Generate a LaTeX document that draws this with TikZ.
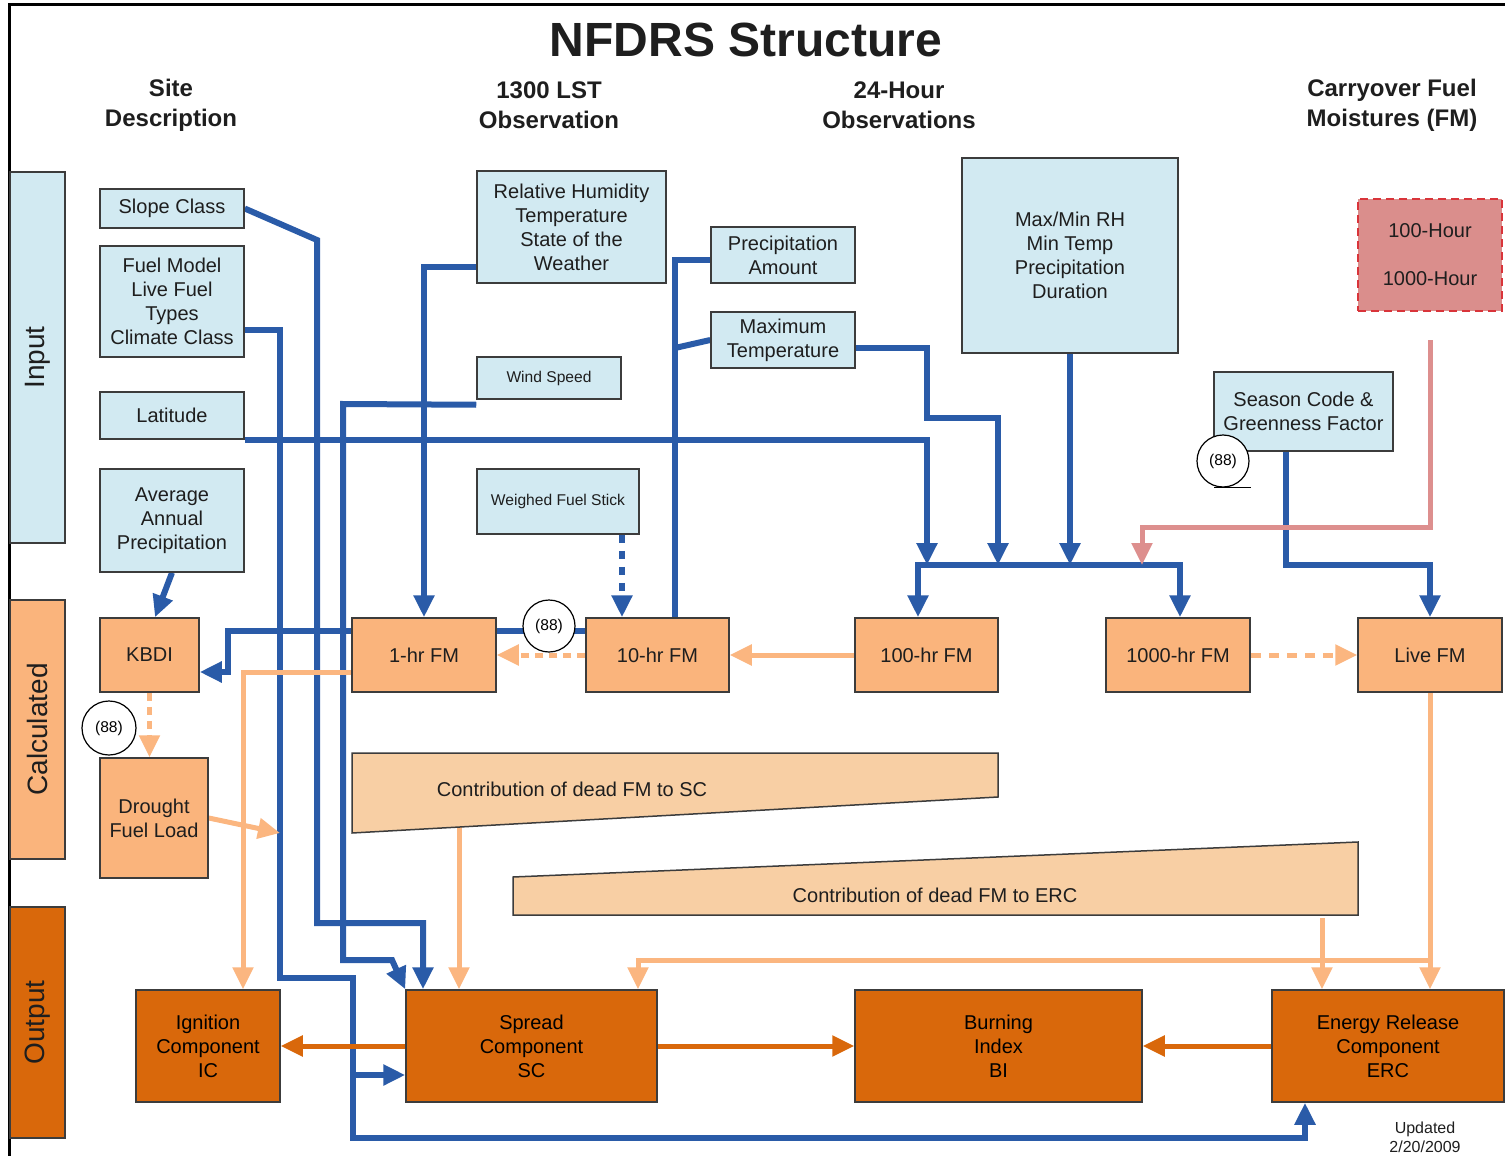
\documentclass[tikz,border=0pt]{standalone}
\usepackage{fontspec}
\setmainfont{Liberation Sans}
\usetikzlibrary{arrows.meta,backgrounds}

\definecolor{inblue}{RGB}{210,234,242}
\definecolor{calcorange}{RGB}{250,180,124}
\definecolor{outorange}{RGB}{217,104,11}
\definecolor{contribfill}{RGB}{248,207,164}
\definecolor{liteorange}{RGB}{251,182,128}
\definecolor{lineblue}{RGB}{42,91,168}
\definecolor{carryfill}{RGB}{218,142,140}
\definecolor{carryred}{RGB}{217,52,58}
\definecolor{pinkline}{RGB}{221,143,142}
\definecolor{boxline}{RGB}{60,60,60}
\definecolor{textdark}{RGB}{30,30,30}

\begin{document}
\begin{tikzpicture}[x=0.5pt,y=-0.5pt]
    \def\px{0.5pt}

    \tikzstyle{box}=[draw=boxline,line width=0.75pt,align=center,inner sep=0pt,text=textdark,font=\fontsize{10}{12}\selectfont]
    \tikzstyle{inbox}=[box,fill=inblue]
    \tikzstyle{calcbox}=[box,fill=calcorange]
    \tikzstyle{outbox}=[box,fill=outorange,text=black]
    \tikzstyle{carry}=[box,fill=carryfill,draw=carryred,dash pattern=on 4pt off 2.5pt,line width=0.9pt]
    \tikzstyle{band}=[box,font=\fontsize{14}{16}\selectfont,minimum width=55*\px]
    \tikzstyle{smalltext}=[font=\fontsize{7.8}{9}\selectfont]
    \tikzstyle{refnum}=[circle,draw=black,fill=white,line width=0.6pt,inner sep=0pt,minimum size=52*\px,font=\fontsize{7.8}{9}\selectfont]
    \tikzstyle{head}=[align=center,text=textdark,font=\bfseries\fontsize{12}{15}\selectfont]
    \tikzstyle{contrib}=[draw=boxline,fill=contribfill,line width=0.75pt]

    \useasboundingbox (0,0) rectangle (1505,1156);
    \draw[line width=1.5pt] (9,1156) -- (9,5) -- (1505,5);

    % headings
    \node[head,font=\bfseries\fontsize{24}{28}\selectfont] (title) at (746,40) {NFDRS Structure};
    \node[head] (hsite) at (171,105) {Site\\Description};
    \node[head] (hobs) at (549,105) {1300 LST\\Observation};
    \node[head] (h24) at (899,105) {24-Hour\\Observations};
    \node[head] (hcarry) at (1392,105) {Carryover Fuel\\Moistures (FM)};

    % row bands
    \node[band,fill=inblue,minimum height=371*\px] (inband) at (37.5,357.5) {\rotatebox{90}{Input}};
    \node[band,fill=calcorange,minimum height=259*\px] (calcband) at (37.5,729.5) {\rotatebox{90}{Calculated}};
    \node[band,fill=outorange,minimum height=231*\px] (outband) at (37.5,1022.5) {\rotatebox{90}{Output}};

    % inputs
    \node[inbox,minimum width=144*\px,minimum height=39*\px] (slope) at (172,208.5) {Slope Class};
    \node[inbox,minimum width=144*\px,minimum height=111*\px] (fuel) at (172,301.5) {Fuel Model\\Live Fuel\\Types\\Climate Class};
    \node[inbox,minimum width=144*\px,minimum height=47*\px] (lat) at (172,415.5) {Latitude};
    \node[inbox,minimum width=144*\px,minimum height=103*\px] (aap) at (172,520.5) {Average\\Annual\\Precipitation};
    \node[inbox,minimum width=189*\px,minimum height=112*\px] (rh) at (571.5,227) {Relative Humidity\\Temperature\\State of the\\Weather};
    \node[inbox,minimum width=144*\px,minimum height=56*\px] (precip) at (783,255) {Precipitation\\Amount};
    \node[inbox,minimum width=144*\px,minimum height=56*\px] (maxt) at (783,340) {Maximum\\Temperature};
    \node[inbox,smalltext,minimum width=144*\px,minimum height=42*\px] (wind) at (549,378) {Wind Speed};
    \node[inbox,smalltext,minimum width=162*\px,minimum height=65*\px] (wfs) at (558,501.5) {Weighed Fuel Stick};
    \node[inbox,minimum width=216*\px,minimum height=195*\px] (maxmin) at (1070,255.5) {Max/Min RH\\Min Temp\\Precipitation\\Duration};
    \node[carry,minimum width=144*\px,minimum height=112*\px] (carry) at (1430,255) {100-Hour\\[12pt]1000-Hour};
    \node[inbox,minimum width=179*\px,minimum height=79*\px] (season) at (1303.5,411.5) {Season Code \&\\Greenness Factor};

    % calculated
    \node[calcbox,minimum width=99*\px,minimum height=74*\px] (kbdi) at (149.5,655) {KBDI};
    \node[calcbox,minimum width=144*\px,minimum height=74*\px] (fm1) at (424,655) {1-hr FM};
    \node[calcbox,minimum width=143*\px,minimum height=74*\px] (fm10) at (657.5,655) {10-hr FM};
    \node[calcbox,minimum width=143*\px,minimum height=74*\px] (fm100) at (926.5,655) {100-hr FM};
    \node[calcbox,minimum width=144*\px,minimum height=74*\px] (fm1000) at (1178,655) {1000-hr FM};
    \node[calcbox,minimum width=144*\px,minimum height=74*\px] (live) at (1430,655) {Live FM};
    \node[calcbox,minimum width=108*\px,minimum height=120*\px] (dfl) at (154,818) {Drought\\Fuel Load};

    \draw[contrib] (352,753) -- (998,753) -- (998,797) -- (352,833) -- cycle;
    \node[text=textdark,font=\fontsize{10}{12}\selectfont] (csc) at (572,789) {Contribution of dead FM to SC};
    \draw[contrib] (513,877) -- (1358,842) -- (1358,915) -- (513,915) -- cycle;
    \node[text=textdark,font=\fontsize{10}{12}\selectfont] (cerc) at (935,895) {Contribution of dead FM to ERC};

    % outputs
    \node[outbox,minimum width=144*\px,minimum height=112*\px] (ic) at (208,1046) {Ignition\\Component\\IC};
    \node[outbox,minimum width=251*\px,minimum height=112*\px] (sc) at (531.5,1046) {Spread\\Component\\SC};
    \node[outbox,minimum width=287*\px,minimum height=112*\px] (bi) at (998.5,1046) {Burning\\Index\\BI};
    \node[outbox,minimum width=232*\px,minimum height=112*\px] (erc) at (1388,1046) {Energy Release\\Component\\ERC};
    \node[align=center,text=textdark,font=\fontsize{8}{9.5}\selectfont] (upd) at (1425,1137) {Updated\\2/20/2009};

    % (88) markers
    \node[refnum] (r1) at (549,626) {(88)};
    \node[refnum,minimum size=54*\px] (r2) at (109,728) {(88)};
    \node[refnum] (r3) at (1223,461) {(88)};
    \draw[line width=0.8pt] ([xshift=-4.5pt]r3.south) -- ([xshift=14pt]r3.south);

    \coordinate (j1) at (918,565);
    \coordinate (j2) at (1180,565);
    \coordinate (scbr) at (353,1075);
    \coordinate (dflend) at (280,833);
    \coordinate (cscout) at (459,827);
    \coordinate (cercout) at (1322,918);
    \coordinate (lbr) at (1430,960);
    \coordinate (pk) at (1430,340);
    \coordinate (wfsin) at ([xshift=-17.75pt]fm10.north);

    \tikzstyle{arr}=[-{Triangle[width=10pt,length=11pt]}]
    \tikzstyle{arrs}=[{Triangle[width=10pt,length=11pt]}-{Triangle[width=10pt,length=11pt]}]
    \tikzstyle{blueline}=[draw=lineblue,line width=3pt]
    \tikzstyle{liteline}=[draw=liteorange,line width=2.5pt]
    \tikzstyle{darkline}=[draw=outorange,line width=2.5pt]

    \begin{pgfonlayer}{background}
        \draw[blueline,arr] (slope.east) -- (317,240) -- (317,923) -| ([xshift=-54.25pt]sc.north);
        \draw[blueline,arr] ([yshift=-14.25pt]fuel.east) -- (280,330) -- (280,978) -- (353,978) -- (353,1138) -| ([xshift=-41.5pt]erc.south);
        \draw[blueline,arr] (scbr) -- ([yshift=-14.5pt]sc.west);
        \draw[blueline,arr] ([yshift=-2.5pt]wind.south west) -- (343,404) -- (343,960) -- (392,960) -- (sc.north west);
        \draw[blueline,arr] (lat.south east) -| ([xshift=4.5pt]j1);
        \draw[blueline,arr] ([yshift=-4pt]maxt.east) -- (927,348) -- (927,418) -| ([xshift=40pt]j1);
        \draw[blueline,arr] (maxmin.south) -- (maxmin.south |- j1);
        \draw[blueline,arrs] (j1 |- fm100.north) -- (j1) -- (j2) -- (j2 |- fm1000.north);
        \draw[blueline,arr] ([yshift=-20pt]rh.west) -| (fm1.north);
        \draw[blueline] ([yshift=-2.5pt]precip.west) -| ([xshift=8.75pt]fm10.north);
        \draw[blueline] (maxt.west) -- (675,348);
        \draw[blueline,arr] ([xshift=-8.75pt]season.south) |- (j2 -| live.north) -- (live.north);
        \draw[blueline,arr,dash pattern=on 4pt off 4pt] (wfsin |- wfs.south) -- (wfsin);
        \draw[blueline,arr] ([yshift=12pt]fm10.west) -- (228,631) |- ([yshift=-8.5pt]kbdi.east);
        \draw[blueline,arr] (aap.south) -- ([xshift=2.75pt]kbdi.north);

        \draw[liteline,arr,dash pattern=on 4pt off 3pt] (fm10.west) -- (fm1.east);
        \draw[liteline,arr] (fm100.west) -- (fm10.east);
        \draw[liteline,arr,dash pattern=on 5pt off 4pt] (fm1000.east) -- (live.west);
        \draw[liteline,arr,dash pattern=on 4pt off 3pt] (kbdi.south) -- (kbdi.south |- dfl.north);
        \draw[liteline,arr] ([yshift=-8.5pt]fm1.west) -| ([xshift=17.5pt]ic.north);
        \draw[liteline,arr] (dfl.east) -- (dflend);
        \draw[liteline,arr] (cscout) -- (cscout |- sc.north);
        \draw[liteline,arr] (cercout) -- (cercout |- erc.north);
        \draw[liteline,arr] (live.south) -- (live.south |- erc.north);
        \draw[liteline,arr] (lbr) -| ([xshift=53.25pt]sc.north);

        \draw[darkline,arr] (sc.west) -- (ic.east);
        \draw[darkline,arr] (sc.east) -- (bi.west);
        \draw[darkline,arr] (erc.west) -- (bi.east);

        \draw[draw=pinkline,line width=2.5pt,arr] (pk) |- (1142,527) -- ([xshift=112pt]j1);
    \end{pgfonlayer}

\end{tikzpicture}
\end{document}
